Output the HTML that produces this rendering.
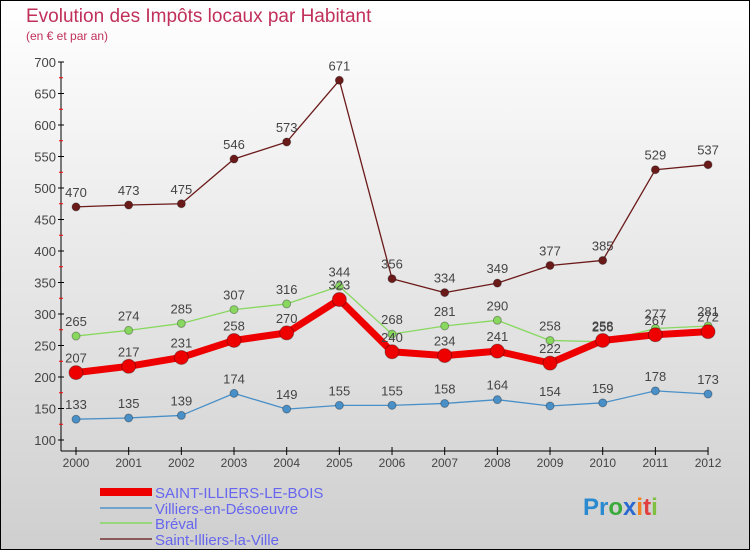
<!DOCTYPE html>
<html><head><meta charset="utf-8"><style>
body{margin:0}
#c{width:750px;height:550px;position:relative;box-sizing:border-box;border:1px solid #000;background:linear-gradient(#fff,#cfcfcf);font-family:"Liberation Sans",sans-serif;overflow:hidden}
</style></head><body>
<div id="c">
<svg id="s" width="750" height="550" style="position:absolute;left:-1px;top:-1px">
<text x="26" y="22" font-size="19" fill="#c0305a">Evolution des Impôts locaux par Habitant</text>
<text x="26" y="40" font-size="12" fill="#c0305a">(en € et par an)</text>
<g id="axes"></g><g id="series"></g>
<g>
<rect x="100" y="488" width="52" height="8" fill="#e00"/>
<text x="155" y="498" font-size="15" fill="#6666ee">SAINT-ILLIERS-LE-BOIS</text>
<rect x="100" y="507" width="52" height="2" fill="#6fa2cc"/>
<text x="155" y="514" font-size="15" fill="#6666ee">Villiers-en-Désoeuvre</text>
<rect x="100" y="522" width="52" height="2" fill="#98d77e"/>
<text x="155" y="529" font-size="15" fill="#6666ee">Bréval</text>
<rect x="100" y="538" width="52" height="2" fill="#8a5a5a"/>
<text x="155" y="545" font-size="15" fill="#6666ee">Saint-Illiers-la-Ville</text>
</g>
<text x="583" y="515" font-size="24" font-weight="bold"><tspan fill="#2a8ad0">Pr</tspan><tspan fill="#3aaa3a">o</tspan><tspan fill="#2a6ad0">x</tspan><tspan fill="#f08020">i</tspan><tspan fill="#e04040">t</tspan><tspan fill="#80c040">i</tspan></text>
</svg></div>
<script>
const years=[2000,2001,2002,2003,2004,2005,2006,2007,2008,2009,2010,2011,2012];
const yTicks=[100,150,200,250,300,350,400,450,500,550,600,650,700];
const saintIlliersBois=[207,217,231,258,270,323,240,234,241,222,258,267,272];
const villiers=[133,135,139,174,149,155,155,158,164,154,159,178,173];
const breval=[265,274,285,307,316,344,268,281,290,258,256,277,281];
const saintIlliersVille=[470,473,475,546,573,671,356,334,349,377,385,529,537];
const NS="http://www.w3.org/2000/svg";
const X=i=>76+i*52.67, Y=v=>440-(v-100)*0.63;
function mk(t,a,p){const e=document.createElementNS(NS,t);for(const k in a)e.setAttribute(k,a[k]);p.appendChild(e);return e;}
const ax=document.getElementById('axes');
const yl=mk('line',{x1:61,y1:Y(700),x2:61,y2:451,stroke:'#000'},ax);


const xl=mk('line',{x1:61,y1:451,x2:X(12),y2:451,stroke:'#000'},ax);


yTicks.forEach(v=>{
 mk('line',{x1:58,x2:64,y1:Y(v),y2:Y(v),stroke:'#000'},ax);
 if(v<700)mk('line',{x1:59,x2:63,y1:Y(v+25),y2:Y(v+25),stroke:'#f00'},ax);
 const t=mk('text',{x:56,y:Y(v)+5,'text-anchor':'end','font-size':13,fill:'#444'},ax);t.textContent=v;
 
 
});
years.forEach((y,i)=>{
 mk('line',{x1:X(i),x2:X(i),y1:447,y2:455,stroke:'#000'},ax);
 const t=mk('text',{x:X(i),y:467,'text-anchor':'middle','font-size':12,fill:'#444'},ax);t.textContent=y;
 
 
});
const sg=document.getElementById('series');
function draw(data,color,w,r,name){
 const g=mk('g',{},sg);
 
 
 mk('polyline',{points:data.map((v,i)=>X(i)+','+Y(v)).join(' '),fill:'none',stroke:color,'stroke-width':w,'stroke-linejoin':'round'},g);
 data.forEach((v,i)=>{
  const c=mk('circle',{cx:X(i),cy:Y(v),r:r,fill:color,stroke:'rgba(0,0,0,0.3)'},g);
  
  
  const t=mk('text',{x:X(i),y:Y(v)-10,'text-anchor':'middle','font-size':13,fill:'#444'},g);t.textContent=v;
  
  
 });
}
draw(saintIlliersVille,'#6b1a1a',1.3,4,'series-saint-illiers-la-ville');
draw(villiers,'#4a90c8',1.3,4,'series-villiers');
draw(breval,'#88d860',1.3,4,'series-breval');
draw(saintIlliersBois,'#ee0000',7,7,'series-saint-illiers-le-bois');
</script>
</body></html>
